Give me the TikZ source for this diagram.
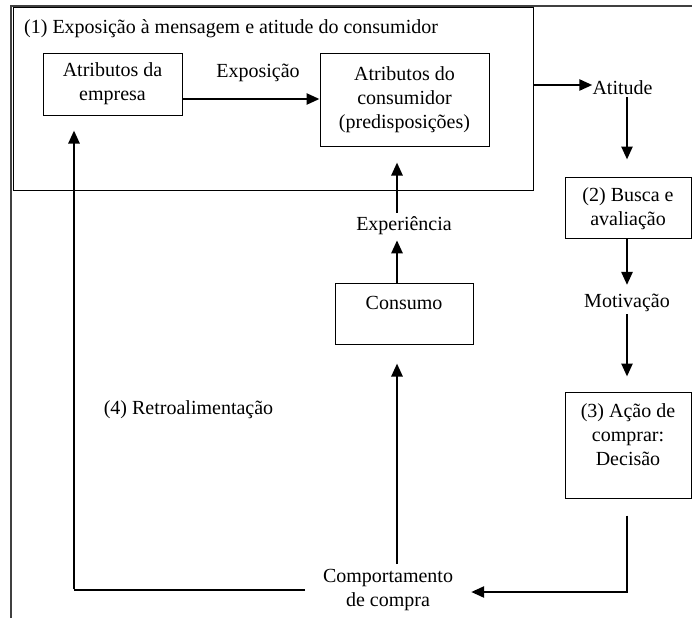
\documentclass[tikz,border=0pt]{standalone}
\usepackage{fontspec}
\setmainfont{Liberation Serif}
\usetikzlibrary{arrows.meta,calc}
\begin{document}
\begin{tikzpicture}[x=1pt,y=-1pt,
  every node/.style={font=\fontsize{20}{24}\selectfont, inner sep=2pt},
  box/.style={draw=black, line width=1pt, inner sep=0pt},
  txt/.style={align=center},
  arr/.style={line width=2.5pt, -{Triangle[length=13pt,width=11pt]}},
  plain/.style={line width=1.5pt},
  frame/.style={draw=black!75, line width=1.5pt}]
\useasboundingbox (0,0) rectangle (692,618);
% outer frame
\coordinate (frBL) at (11,618);
\coordinate (frTL) at (11,6);
\coordinate (frTR) at (692,6);
\draw[frame] (frBL) -- (frTL) -- (frTR);
% box (1)
\node[box, line width=1.3pt, minimum width=520, minimum height=183, anchor=north west] (box1) at (13,7) {};
\node[anchor=west] (title) at (22,29) {(1) Exposição à mensagem e atitude do consumidor};
\node[box, txt, minimum width=139, minimum height=62] (empresa) at (112.5,84) {Atributos da\\empresa};
\node[box, txt, minimum width=169, minimum height=93] (consumidor) at (404.5,99.5) {Atributos do\\consumidor\\(predisposições)};
\node (exposicao) at (258,73) {Exposição};
\draw[arr] ([yshift=-15pt]empresa.east) -- ([yshift=-15pt]empresa.east -| consumidor.west);
% right column
\node[inner sep=0pt] (atitude) at (622.5,88) {Atitude};
\draw[arr] (box1.east |- 0,85) -- (atitude.west |- 0,85);
\node[box, minimum width=126, minimum height=61] (box2) at (628,207.5) {};
\node[txt] (box2t) at (628,209) {(2) Busca e\\avaliação};
\draw[arr, shorten <=2pt, shorten >=17pt] (atitude.south -| 627,0) -- (box2.north -| 627,0);
\node (motivacao) at (627,303) {Motivação};
\draw[arr, shorten >=7pt] (box2.south -| 627,0) -- (motivacao.north -| 627,0);
\node[box, minimum width=126, minimum height=106] (box3) at (628,445) {};
\node[txt] (box3t) at (628,435) {(3) Ação de\\comprar:\\Decisão};
\draw[arr, shorten >=15pt] (motivacao.south -| 627,0) -- (box3.north -| 627,0);
% bottom
\node[txt] (comport) at (388,590) {Comportamento\\de compra};
\draw[arr, shorten <=17pt, shorten >=16pt] (box3.south -| 627,0) |- (comport.east |- 0,592);
% middle column
\node[box, minimum width=138, minimum height=61] (consumo) at (404,313.5) {};
\node (consumot) at (404,303) {Consumo};
\node (experiencia) at (404,226) {Experiência};
\draw[arr, shorten <=3pt, shorten >=19pt] (comport.north -| 397,0) -- (consumo.south -| 397,0);
\draw[arr, shorten >=3pt] (consumo.north -| 397,0) -- (experiencia.south -| 397,0);
\draw[arr, shorten <=2pt, shorten >=16pt] (experiencia.north -| 397,0) -- (consumidor.south -| 397,0);
% feedback
\node (retro) at (188.5,410) {(4) Retroalimentação};
\coordinate (fbend) at (305,590);
\coordinate (fbcorner) at (74,590);
\draw[plain] (fbend) -- (fbcorner);
\draw[arr, shorten >=15pt] ([yshift=0.75pt]fbcorner) -- (fbcorner |- empresa.south);
\end{tikzpicture}
\end{document}
